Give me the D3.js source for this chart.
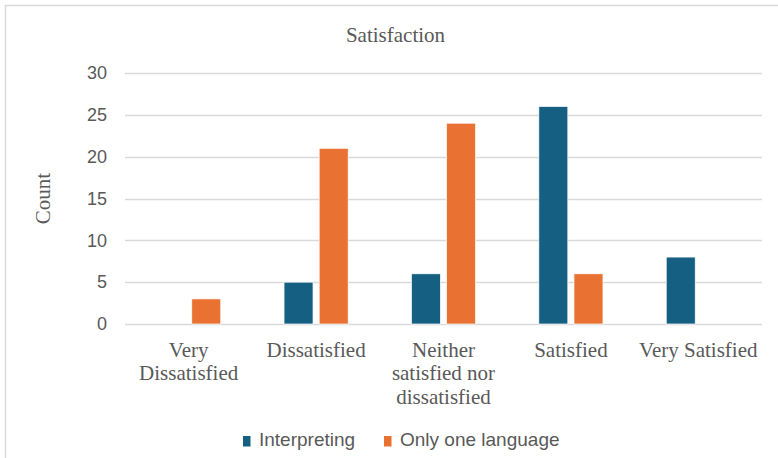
<!DOCTYPE html>
<html>
<head>
<meta charset="utf-8">
<script src="https://cdn.jsdelivr.net/npm/d3@7"></script>
<style>
  html, body { margin: 0; padding: 0; background: #fff; }
  svg { display: block; }
</style>
</head>
<body>
<svg id="chart" width="778" height="458"></svg>
<script>
const categories = ["Very Dissatisfied", "Dissatisfied", "Neither satisfied nor dissatisfied", "Satisfied", "Very Satisfied"];
const seriesNames = ["Interpreting", "Only one language"];
const interpreting = [0, 5, 6, 26, 8];
const onlyOneLanguage = [3, 21, 24, 6, 0];
const yTicks = [0, 5, 10, 15, 20, 25, 30];
const colors = ["#156082", "#E97132"];
const title = "Satisfaction";
const yTitle = "Count";

const seriesValues = [interpreting, onlyOneLanguage];
const svg = d3.select("#chart");

// outer chart border
svg.append("rect")
  .attr("x", 5.5).attr("y", 5.5).attr("width", 820).attr("height", 520)
  .attr("fill", "#fff").attr("stroke", "#d9d9d9").attr("stroke-width", 1.5);

const plot = { left: 125, right: 762, top: 73, bottom: 324 };

const x0 = d3.scaleBand().domain(categories).range([plot.left, plot.right]).padding(0);
const x1 = d3.scaleBand().domain(seriesNames).range([0, x0.bandwidth()])
  .paddingInner(0.175).paddingOuter(0.9);
const y = d3.scaleLinear().domain([0, 30]).range([plot.bottom, plot.top]);

// gridlines
svg.append("g").selectAll("line").data(yTicks).join("line")
  .attr("x1", plot.left).attr("x2", plot.right)
  .attr("y1", d => Math.round(y(d)) + 0.5).attr("y2", d => Math.round(y(d)) + 0.5)
  .attr("stroke", "#d9d9d9").attr("stroke-width", 1.3);

// y axis tick labels
const yAxis = d3.axisLeft(y).tickValues(yTicks).tickSize(0).tickPadding(0);
const gy = svg.append("g").attr("transform", `translate(107,0)`).call(yAxis);
gy.select(".domain").remove();
gy.selectAll("text")
  .attr("font-family", "'Liberation Sans', Arial, sans-serif")
  .attr("font-size", 18).attr("fill", "#595959");

// bars
const rows = categories.map((c, i) => ({ cat: c, vals: seriesNames.map((s, j) => ({ s, j, v: seriesValues[j][i] })) }));
const gBars = svg.append("g");
rows.forEach(r => {
  gBars.selectAll(null).data(r.vals.filter(d => d.v > 0)).join("rect")
    .attr("x", d => x0(r.cat) + x1(d.s))
    .attr("width", x1.bandwidth())
    .attr("y", d => y(d.v))
    .attr("height", d => y(0) - y(d.v))
    .attr("fill", d => colors[d.j])
    .attr("stroke", "#fff").attr("stroke-width", 0.7);
});

// category labels with wrapping
const gx = svg.append("g");
categories.forEach(c => {
  const t = gx.append("text")
    .attr("x", x0(c) + x0.bandwidth() / 2)
    .attr("y", 356.5)
    .attr("text-anchor", "middle")
    .attr("font-family", "'Liberation Serif', 'Times New Roman', serif")
    .attr("font-size", 21).attr("fill", "#595959");
  const words = c.split(" ");
  let line = [];
  let lineNo = 0;
  let tspan = t.append("tspan").attr("x", x0(c) + x0.bandwidth() / 2).attr("dy", 0);
  words.forEach(w => {
    line.push(w);
    tspan.text(line.join(" "));
    if (tspan.node().getComputedTextLength() > x0.bandwidth() - 4 && line.length > 1) {
      line.pop();
      tspan.text(line.join(" "));
      line = [w];
      lineNo++;
      tspan = t.append("tspan").attr("x", x0(c) + x0.bandwidth() / 2).attr("dy", 23.5).text(w);
    }
  });
});

// title
svg.append("text").attr("x", 395.5).attr("y", 41.5).attr("text-anchor", "middle")
  .attr("font-family", "'Liberation Serif', 'Times New Roman', serif")
  .attr("font-size", 21).attr("fill", "#595959").text(title);

// y title
svg.append("text")
  .attr("transform", `translate(50,${(172 + 225) / 2}) rotate(-90)`)
  .attr("text-anchor", "middle")
  .attr("font-family", "'Liberation Serif', 'Times New Roman', serif")
  .attr("font-size", 21).attr("fill", "#595959").text(yTitle);

// legend
const legendX = [243, 384];
const lg = svg.append("g");
seriesNames.forEach((s, j) => {
  lg.append("rect").attr("x", legendX[j]).attr("y", 436).attr("width", 7.5).attr("height", 10.5)
    .attr("fill", colors[j]);
  lg.append("text").attr("x", legendX[j] + 16).attr("y", 446)
    .attr("font-family", "'Liberation Sans', Arial, sans-serif")
    .attr("font-size", 19).attr("fill", "#595959").text(s);
});
</script>
</body>
</html>
